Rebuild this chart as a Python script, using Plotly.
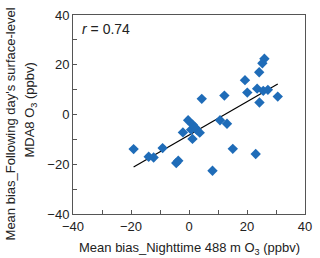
import numpy as np
import plotly.graph_objects as go

x_bias = [-19.1, -13.9, -12.2, -9.1, -4.4, -3.7, -2.1, -0.3, 0.7, 1.2, 1.3, 2.1, 2.6, 3.7,
          4.4, 8.1, 10.7, 12.2, 13.1, 15.1, 19.3, 20.1, 23.0, 23.5, 24.2, 24.3, 25.6, 27.2,
          25.3, 26.0, 30.6]
y_bias = [-13.9, -17.0, -17.3, -13.5, -19.5, -18.6, -7.2, -2.3, -6.1, -9.8, -4.1, -5.2, -6.1, -7.3,
          6.3, -22.6, -2.3, 7.6, -3.7, -13.8, 13.8, 8.8, -15.9, 10.4, 17.0, 4.8, 9.5, 9.9,
          20.6, 22.4, 7.2]

fit_x = [-19.1, 30.6]
fit_y = [-21.1, 12.3]

fig = go.Figure()
fig.add_trace(go.Scatter(x=fit_x, y=fit_y, mode="lines",
                         line=dict(color="black", width=1.2), showlegend=False))
fig.add_trace(go.Scatter(x=x_bias, y=y_bias, mode="markers",
                         marker=dict(symbol="diamond", size=8, color="#1f6cb8"),
                         showlegend=False))

axis_common = dict(range=[-40, 40], dtick=20, tick0=-40, ticks="inside", ticklen=4,
                   tickcolor="#555", showline=True, linecolor="#555", linewidth=1,
                   mirror=True, showgrid=False, zeroline=False, ticklabeloverflow="allow",
                   tickfont=dict(family="Liberation Sans, Arial", size=13, color="#222"),
                   minor=dict(dtick=10, ticks="inside", ticklen=4, tickcolor="#555"))
fig.update_xaxes(**axis_common)
fig.update_yaxes(**axis_common)

fig.update_layout(
    width=320, height=258,
    margin=dict(l=73, r=8, t=15, b=44),
    plot_bgcolor="white", paper_bgcolor="white",
    font=dict(family="Liberation Sans, Arial", color="#222"),
    annotations=[
        dict(text="<i>r</i> = 0.74", xref="paper", yref="paper", x=0.03, y=0.93,
             xanchor="left", yanchor="middle", showarrow=False, font=dict(size=14)),
        dict(text="Mean bias_Nighttime 488 m O<sub>3</sub> (ppbv)", xref="paper", yref="paper",
             x=0.5, y=0, yshift=-34, xanchor="center", yanchor="middle",
             showarrow=False, font=dict(size=13)),
        dict(text="Mean bias_Following day's surface-level", xref="paper", yref="paper",
             x=0, xshift=-63, y=0.45, xanchor="center", yanchor="middle", textangle=-90,
             showarrow=False, font=dict(size=13)),
        dict(text="MDA8 O<sub>3</sub> (ppbv)", xref="paper", yref="paper",
             x=0, xshift=-42, y=0.52, xanchor="center", yanchor="middle", textangle=-90,
             showarrow=False, font=dict(size=13)),
    ],
)

fig.write_html("out.html", config={"displayModeBar": False},
               post_script="document.body.style.margin='0';")
